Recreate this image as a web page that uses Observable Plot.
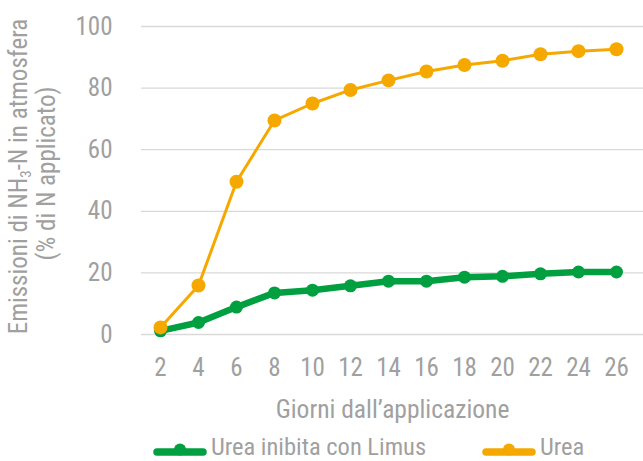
<!DOCTYPE html>
<html>
<head>
<meta charset="utf-8">
<script src="https://cdn.jsdelivr.net/npm/d3@7"></script>
<script src="https://cdn.jsdelivr.net/npm/@observablehq/plot@0.6"></script>
<style>
  html, body { margin: 0; padding: 0; background: #fff; }
  #wrap { position: relative; width: 643px; height: 461px; overflow: hidden;
          font-family: "Liberation Sans Narrow", "Roboto Condensed", "DejaVu Sans Condensed", sans-serif; }
  #legend { position: absolute; left: 0; top: 420px; }
</style>
</head>
<body>
<div id="wrap"></div>
<script>
const days = [2, 4, 6, 8, 10, 12, 14, 16, 18, 20, 22, 24, 26];
const ureaValues = [2.3, 15.9, 49.6, 69.5, 75.0, 79.4, 82.5, 85.4, 87.5, 88.9, 91.0, 92.0, 92.6];
const limusValues = [1.2, 3.9, 8.9, 13.5, 14.4, 15.8, 17.3, 17.3, 18.6, 18.9, 19.7, 20.3, 20.3];
const yTicks = [0, 20, 40, 60, 80, 100];
const seriesNames = ["Urea inibita con Limus", "Urea"];
const seriesColors = ["#00A040", "#F5A800"];
const xTitle = "Giorni dall\u2019applicazione";
const yTitle1 = "Emissioni di NH3-N in atmosfera";
const yTitle2 = "(% di N applicato)";

const urea = days.map((d, i) => ({day: d, value: ureaValues[i]}));
const limus = days.map((d, i) => ({day: d, value: limusValues[i]}));

const FONT = '"Liberation Sans Narrow", "Roboto Condensed", "DejaVu Sans Condensed", sans-serif';
const GRAY = "#a0a0a0";

const chart = Plot.plot({
  width: 643,
  height: 420,
  marginLeft: 141,
  marginRight: 0,
  marginTop: 26,
  marginBottom: 86,
  style: {fontFamily: FONT, color: GRAY, background: "#fff", overflow: "visible"},
  x: {type: "point", domain: days, range: [157, 618], padding: 0},
  y: {domain: [0, 100]},
  marks: [
    Plot.ruleY(yTicks, {stroke: "#d9d9d9", strokeWidth: 1.3}),
    Plot.axisY({ticks: yTicks, tickSize: 0, tickPadding: 29, fontSize: 25, label: null, fill: GRAY}),
    Plot.axisX({tickSize: 0, tickPadding: 24, fontSize: 25, label: null, fill: GRAY}),
    Plot.text([xTitle], {frameAnchor: "bottom", dy: 75, lineAnchor: "middle", fontSize: 25.5, fill: GRAY}),
    Plot.text([yTitle1], {frameAnchor: "left", rotate: -90, dx: -122.5, dy: -4, lineAnchor: "middle", textAnchor: "middle", fontSize: 25, fill: GRAY}),
    Plot.text([yTitle2], {frameAnchor: "left", rotate: -90, dx: -95, dy: -7, lineAnchor: "middle", textAnchor: "middle", fontSize: 25, fill: GRAY}),
    Plot.line(limus, {x: "day", y: "value", stroke: seriesColors[0], strokeWidth: 6.5}),
    Plot.dot(limus, {x: "day", y: "value", r: 6.5, fill: seriesColors[0]}),
    Plot.line(urea, {x: "day", y: "value", stroke: seriesColors[1], strokeWidth: 3}),
    Plot.dot(urea, {x: "day", y: "value", r: 7, fill: seriesColors[1]})
  ]
});

// subscript the "3" in NH3
d3.select(chart).selectAll("text").each(function() {
  const t = d3.select(this);
  if (t.text() === yTitle1) {
    t.text(null);
    t.append("tspan").text("Emissioni di NH");
    t.append("tspan").attr("baseline-shift", "-25%").attr("font-size", "0.6em").text("3");
    t.append("tspan").text("-N in atmosfera");
  }
});

const wrap = document.getElementById("wrap");
wrap.appendChild(chart);

// legend below the chart (its own svg, top at 420)
const legend = d3.create("svg").attr("id", "legend").attr("width", 643).attr("height", 41)
  .style("font-family", FONT);
const items = [
  {x0: 153, x1: 207, tx: 211, name: seriesNames[0], color: seriesColors[0]},
  {x0: 482, x1: 536, tx: 540, name: seriesNames[1], color: seriesColors[1]}
];
for (const it of items) {
  legend.append("line").attr("x1", it.x0 + 4).attr("x2", it.x1 - 4).attr("y1", 32).attr("y2", 32)
    .attr("stroke", it.color).attr("stroke-width", 7.5).attr("stroke-linecap", "round");
  legend.append("circle").attr("cx", (it.x0 + it.x1) / 2).attr("cy", 29.5).attr("r", 6).attr("fill", it.color);
  legend.append("text").attr("x", it.tx).attr("y", 34.5).attr("font-size", 24.5).attr("fill", GRAY).text(it.name);
}
wrap.appendChild(legend.node());
</script>
</body>
</html>
